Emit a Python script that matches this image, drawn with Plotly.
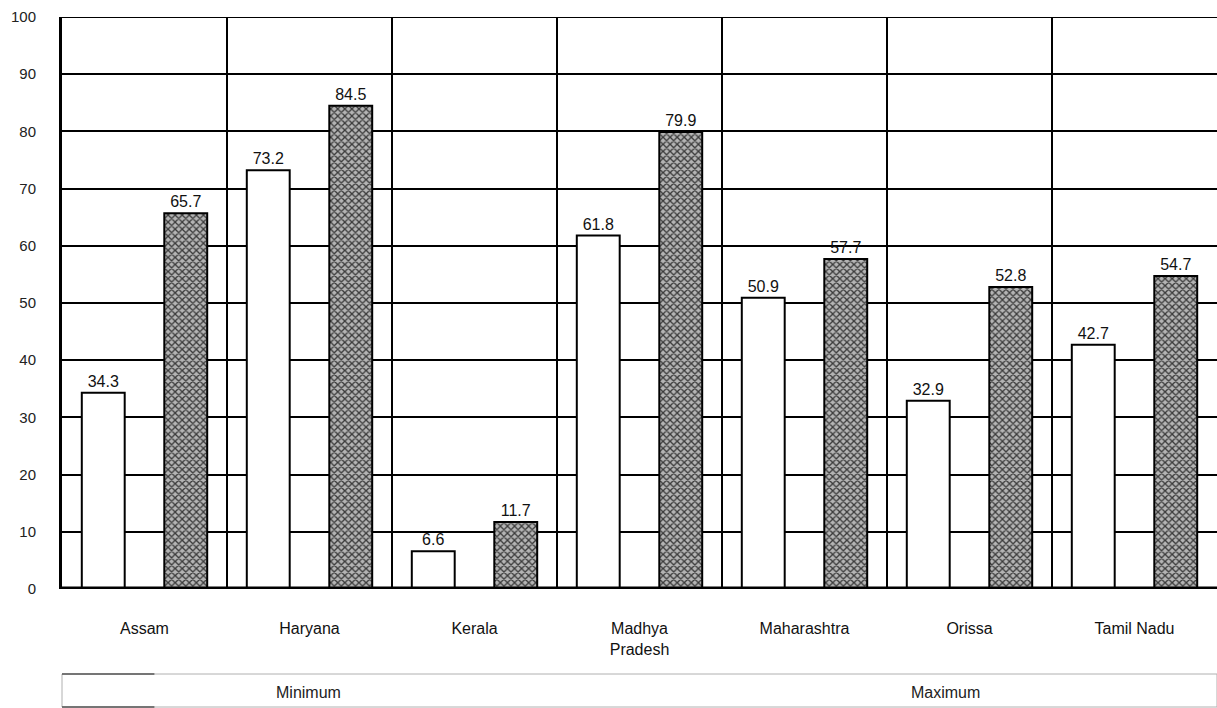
import plotly.graph_objects as go

states = ["Assam", "Haryana", "Kerala", "Madhya<br>Pradesh", "Maharashtra", "Orissa", "Tamil Nadu"]
minimum = [34.3, 73.2, 6.6, 61.8, 50.9, 32.9, 42.7]
maximum = [65.7, 84.5, 11.7, 79.9, 57.7, 52.8, 54.7]
y_ticks = [0, 10, 20, 30, 40, 50, 60, 70, 80, 90, 100]

FONT = "Liberation Sans, Arial, sans-serif"
pos = list(range(len(states)))

fig = go.Figure()

fig.add_trace(go.Bar(
    x=pos, y=minimum, name="Minimum",
    width=0.26, offset=-0.38,
    marker=dict(color="white", line=dict(color="black", width=2)),
    text=[f"{v:.1f}" for v in minimum], textposition="outside",
    textfont=dict(family=FONT, size=16, color="#111"),
    cliponaxis=False,
))
fig.add_trace(go.Bar(
    x=pos, y=maximum, name="Maximum",
    width=0.26, offset=0.12,
    marker=dict(
        color="#9a9a9a",
        line=dict(color="black", width=2),
        pattern=dict(shape="x", size=5, solidity=0.45,
                     fgcolor="#3a3a3a", bgcolor="#b4b4b4", fillmode="replace"),
    ),
    text=[f"{v:.1f}" for v in maximum], textposition="outside",
    textfont=dict(family=FONT, size=16, color="#111"),
    cliponaxis=False,
))

fig.update_layout(
    width=1217, height=708,
    margin=dict(l=62, r=0, t=17, b=119),
    barmode="overlay",
    showlegend=False,
    plot_bgcolor="white", paper_bgcolor="white",
    font=dict(family=FONT, size=16, color="#111"),
    xaxis=dict(
        range=[-0.5, 6.5],
        tickmode="array", tickvals=pos, ticktext=states,
        ticks="", showgrid=False, zeroline=False,
        showline=False,
        ticklabelstandoff=28,
        tickfont=dict(family=FONT, size=16, color="#111"),
        minor=dict(tickmode="array", tickvals=[p + 0.5 for p in pos[:-1]],
                   showgrid=True, gridcolor="black", gridwidth=1.5, ticks=""),
    ),
    yaxis=dict(
        range=[0, 100],
        tickmode="array", tickvals=y_ticks,
        showgrid=True, gridcolor="black", gridwidth=1.5,
        zeroline=False, ticks="",
        showline=True, linecolor="black", linewidth=3,
        ticklabelstandoff=20,
        tickfont=dict(family=FONT, size=15, color="#222"),
    ),
)

# top frame line and heavy baseline
fig.add_shape(type="line", xref="paper", yref="y", x0=0, x1=1, y0=100, y1=100,
              line=dict(color="black", width=2), layer="above")
fig.add_shape(type="line", xref="paper", yref="y", x0=0, x1=1, y0=0, y1=0,
              line=dict(color="black", width=5), layer="above")

# legend box beneath the axis labels
box_top = (589 - 674) / 572
box_bot = (589 - 707) / 572
fig.add_shape(type="rect", xref="paper", yref="paper", x0=0, x1=1.0,
              y0=box_bot, y1=box_top, line=dict(color="#b0b0b0", width=1))
fig.add_shape(type="line", xref="paper", yref="paper", x0=0, x1=0.08,
              y0=box_top, y1=box_top, line=dict(color="#555", width=1.5))
fig.add_shape(type="line", xref="paper", yref="paper", x0=0, x1=0.08,
              y0=box_bot, y1=box_bot, line=dict(color="#555", width=1.5))

label_y = (589 - 692) / 572
fig.add_annotation(text="Minimum", xref="paper", yref="paper", x=0.213, y=label_y,
                   xanchor="center", yanchor="middle", showarrow=False,
                   font=dict(family=FONT, size=16, color="#222"))
fig.add_annotation(text="Maximum", xref="paper", yref="paper", x=0.765, y=label_y,
                   xanchor="center", yanchor="middle", showarrow=False,
                   font=dict(family=FONT, size=16, color="#222"))

fig.write_html("out.html")
